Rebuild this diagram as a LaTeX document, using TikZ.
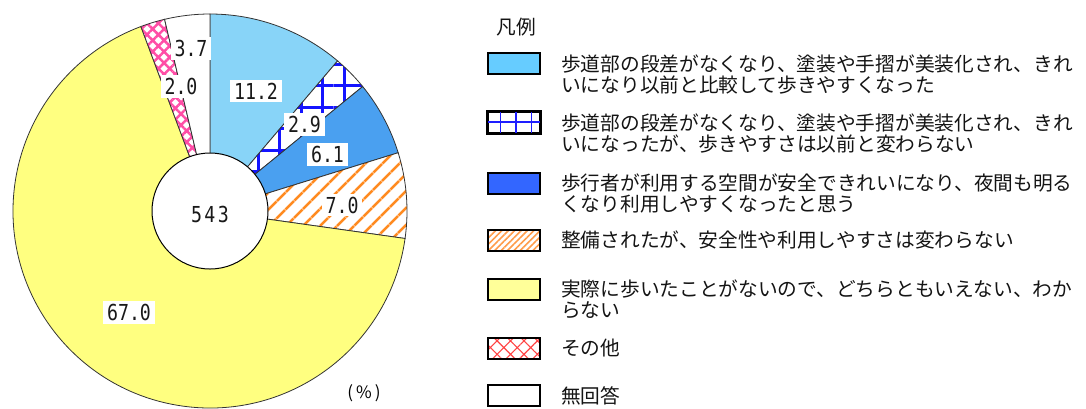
\documentclass[tikz,border=0pt]{standalone}
\usepackage{fontspec}
\usetikzlibrary{patterns.meta}
\newfontfamily\jp{Noto Sans CJK JP}
\newfontfamily\numfont[FakeStretch=0.83]{DejaVu Sans Mono}
\definecolor{pielblue}{HTML}{88D4F8}
\definecolor{pieblue}{HTML}{4AA0F0}
\definecolor{pieyellow}{HTML}{FFFF80}
\definecolor{piegrid}{HTML}{1414FF}
\definecolor{pieorange}{HTML}{FF8A1F}
\definecolor{piepink}{HTML}{FF4DA6}
\definecolor{leglblue}{HTML}{66CCFF}
\definecolor{legblue}{HTML}{3366FF}
\definecolor{legyellow}{HTML}{FFFF99}
\definecolor{legorange}{HTML}{FF9C4A}
\definecolor{legred}{HTML}{FF4444}
\definecolor{leggrid}{HTML}{1E1EFF}
\tikzset{
  slice/.style={draw=black!80, line width=0.8pt},
  lab/.style={fill=white, inner xsep=4pt, inner ysep=3pt, text=black!90,
    font=\numfont\fontsize{22}{22}\selectfont},
  lbox/.style={draw=black, line width=2pt, minimum width=52pt, minimum height=21pt, inner sep=0pt},
  ltext/.style={anchor=west, align=left, inner sep=0pt, text=black!92,
    font=\jp\fontsize{19.7}{21}\selectfont},
}
\begin{document}
\begin{tikzpicture}[x=1pt,y=1pt]
\fill[white] (0,0) rectangle (1086,-408);
\useasboundingbox (0,0) rectangle (1086,-408);
\coordinate (C) at (210,-211);
% slices
\path[slice, fill=pielblue] (C) -- +(90:197pt) arc[start angle=90, end angle=49.64, radius=197pt] -- cycle;
\path[slice, preaction={fill=white}, pattern={Hatch[angle=0,distance=21.5pt,line width=3pt]}, pattern color=piegrid]
  (C) -- +(49.64:197pt) arc[start angle=49.64, end angle=39.19, radius=197pt] -- cycle;
\path[slice, fill=pieblue] (C) -- +(39.19:197pt) arc[start angle=39.19, end angle=17.21, radius=197pt] -- cycle;
\path[slice, preaction={fill=white}, pattern={Lines[angle=45,distance=13pt,line width=3pt]}, pattern color=pieorange]
  (C) -- +(17.21:197pt) arc[start angle=17.21, end angle=-8.02, radius=197pt] -- cycle;
\path[slice, fill=pieyellow] (C) -- +(-8.02:197pt) arc[start angle=-8.02, end angle=-249.46, radius=197pt] -- cycle;
\path[slice, preaction={fill=white}, pattern={Hatch[angle=45,distance=8pt,line width=2.5pt]}, pattern color=piepink]
  (C) -- +(-249.46:197pt) arc[start angle=-249.46, end angle=-256.67, radius=197pt] -- cycle;
\path[slice, fill=white] (C) -- +(-256.67:197pt) arc[start angle=-256.67, end angle=-270, radius=197pt] -- cycle;
\draw[black, line width=1pt, fill=white] (C) circle[radius=58pt];
% labels
\node[lab] (l1) at (256,-91) {11.2};
\node[lab] (l2) at (304.5,-124.5) {2.9};
\node[lab] (l3) at (327.5,-154.5) {6.1};
\node[lab] (l4) at (342,-205) {7.0};
\node[lab] (l5) at (129,-312.5) {67.0};
\node[lab] (l6) at (181,-86.5) {2.0};
\node[lab] (l7) at (191,-48.5) {3.7};
\node[lab, fill=none] (n) at (210,-214.5) {5\hspace{2.5pt}4\hspace{2.5pt}3};
\node[font=\jp\fontsize{17}{17}\selectfont, inner sep=0pt] (pct) at (364,-393) {(\hspace{3pt}\%\hspace{3pt})};
% legend
\node[font=\jp\fontsize{19.7}{21}\selectfont, inner sep=0pt, text=black!92] (title) at (516,-27.5) {凡例};
\node[lbox, fill=leglblue] (b1) at (514,-63.5) {};
\node[lbox, fill=white] (b2) at (514,-122) {};
\foreach \dx in {13.5,29,44.5} {
  \draw[leggrid, line width=1.8pt] ([xshift=\dx pt]b2.north west) -- ([xshift=\dx pt]b2.south west);
}
\draw[leggrid, line width=1.8pt] (b2.west) -- (b2.east);
\draw[black, line width=2pt] (b2.south west) rectangle (b2.north east);
\node[lbox, fill=legblue] (b3) at (514,-183.5) {};
\node[lbox, preaction={fill=white}, pattern={Lines[angle=45,distance=4.5pt,line width=1.6pt]}, pattern color=legorange] (b4) at (514,-240) {};
\node[lbox, fill=legyellow] (b5) at (514,-289) {};
\node[lbox, preaction={fill=white}, pattern={Hatch[angle=45,distance=9.5pt,line width=1.1pt]}, pattern color=legred] (b6) at (514,-348) {};
\node[lbox, fill=white] (b7) at (514,-395.5) {};
\node[ltext] (t1) at (561,-74.5) {歩道部の段差がなくなり、塗装や手摺が美装化され、きれ\\いになり以前と比較して歩きやすくなった};
\node[ltext] (t2) at (561,-133.5) {歩道部の段差がなくなり、塗装や手摺が美装化され、きれ\\いになったが、歩きやすさは以前と変わらない};
\node[ltext] (t3) at (561,-193) {歩行者が利用する空間が安全できれいになり、夜間も明る\\くなり利用しやすくなったと思う};
\node[ltext] (t4) at (561,-240) {整備されたが、安全性や利用しやすさは変わらない};
\node[ltext] (t5) at (561,-299.5) {実際に歩いたことがないので、どちらともいえない、わか\\らない};
\node[ltext] (t6) at (561,-348) {その他};
\node[ltext] (t7) at (561,-395.5) {無回答};
\end{tikzpicture}
\end{document}
